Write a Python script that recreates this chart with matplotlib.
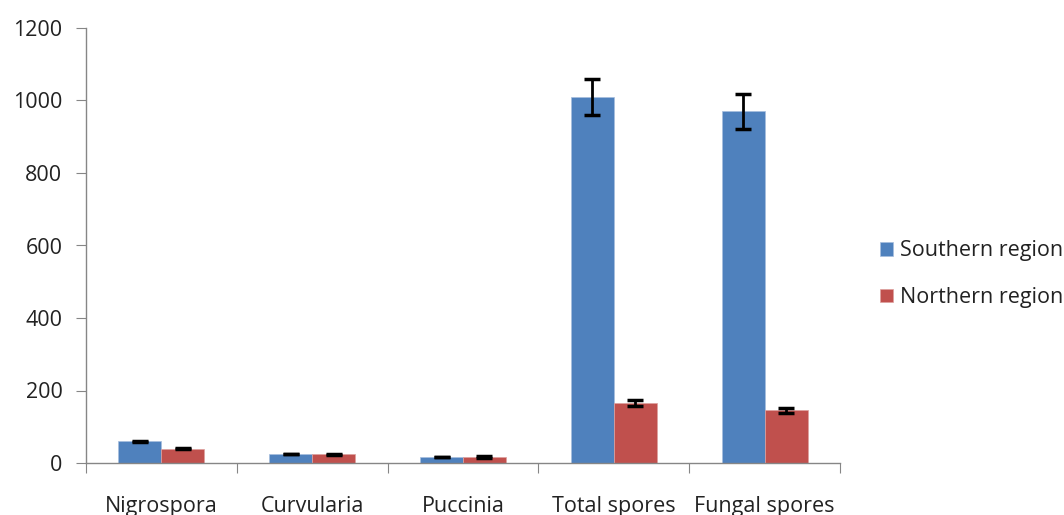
import matplotlib
matplotlib.use("Agg")
import matplotlib.pyplot as plt
import numpy as np

categories = ["Nigrospora", "Curvularia", "Puccinia", "Total spores", "Fungal spores"]
southern = [60, 24, 17, 1010, 970]
southern_err = [2, 0, 0, 50, 49]
northern = [40, 24, 17, 165, 145]
northern_err = [2, 2, 2, 9, 7]
yticks = [0, 200, 400, 600, 800, 1000, 1200]

plt.rcParams['font.family'] = ['Open Sans', 'DejaVu Sans']
fs = 15.5

fig = plt.figure(figsize=(10.64, 5.15), dpi=100)
ax = fig.add_axes([86/1064, 52/515, (840-86)/1064, (463-28)/515])

x = np.arange(len(categories))
w = 0.285
ekw = dict(ecolor='black', elinewidth=2, capsize=5.5, capthick=2.5)
ax.bar(x - w/2, southern, w, color='#4F81BD', label='Southern region',
       yerr=southern_err, error_kw=ekw, edgecolor='#A7BEDE', linewidth=0.5)
ax.bar(x + w/2, northern, w, color='#C0504D', label='Northern region',
       yerr=northern_err, error_kw=ekw, edgecolor='#DDA09E', linewidth=0.5)

ax.set_xlim(-0.5, len(categories) - 0.5)
ax.set_ylim(0, 1200)
ax.set_yticks(yticks)
ax.set_xticks(np.arange(len(categories) + 1) - 0.5)
ax.set_xticklabels([])
ax.set_xticks(x, minor=True)
ax.set_xticklabels(categories, minor=True)
ax.tick_params(axis='x', which='minor', length=0, pad=23.5, labelsize=fs, colors='#222222')
ax.tick_params(axis='x', which='major', length=7, color='#868686')
ax.tick_params(axis='y', length=7, color='#868686', labelsize=fs, labelcolor='#222222', pad=10)

for s in ['top', 'right']:
    ax.spines[s].set_visible(False)
for s in ['left', 'bottom']:
    ax.spines[s].set_color('#868686')
    ax.spines[s].set_linewidth(1)

leg = fig.legend(loc='upper left', bbox_to_anchor=(861/1064, (515-221)/515), frameon=False,
                 fontsize=fs, handlelength=0.6, handleheight=0.6, handletextpad=0.3,
                 labelspacing=1.2, labelcolor='#222222')

fig.savefig('out.png', dpi=100)
